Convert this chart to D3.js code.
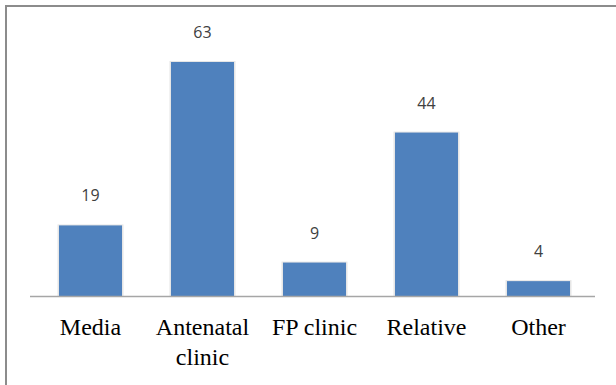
<!DOCTYPE html>
<html><head><meta charset="utf-8">
<script src="https://cdn.jsdelivr.net/npm/d3@7"></script>
<style>html,body{margin:0;padding:0;background:#fff;}svg{display:block;}
.cat{font-family:"Liberation Serif","Tinos","Times New Roman","Times","Nimbus Roman","Nimbus Roman No9 L","FreeSerif","Noto Serif","DejaVu Serif","Noto Serif CJK SC","Source Han Serif SC",serif;}
.val{font-family:"Open Sans","DejaVu Sans",sans-serif;}
</style>
</head><body>
<script>
const categories = ["Media", "Antenatal clinic", "FP clinic", "Relative", "Other"];
const categoryLines = [["Media"], ["Antenatal", "clinic"], ["FP clinic"], ["Relative"], ["Other"]];
const values = [19, 63, 9, 44, 4];

const W = 616, H = 385;
const svg = d3.select("body").append("svg").attr("width", W).attr("height", H);

// outer frame (top and left visible)
svg.append("line").attr("x1", 5).attr("x2", W).attr("y1", 6).attr("y2", 6).attr("stroke", "#8c8c8c").attr("stroke-width", 2);
svg.append("line").attr("x1", 6).attr("x2", 6).attr("y1", 5).attr("y2", H).attr("stroke", "#8c8c8c").attr("stroke-width", 2);

const x = d3.scaleBand().domain(categories).range([34.5, 594.5]).paddingInner(0.4375).paddingOuter(0.21875);
const y = d3.scaleLinear().domain([0, 63]).range([296, 62]);

// bar shadows
svg.selectAll("rect.sh").data(values).join("rect")
  .attr("x", (d, i) => x(categories[i]) - 1.5)
  .attr("y", d => y(d) - 1)
  .attr("width", x.bandwidth() + 3)
  .attr("height", d => y(0) - y(d) + 1)
  .attr("fill", "#e6e6e6");

svg.selectAll("rect.bar").data(values).join("rect")
  .attr("x", (d, i) => x(categories[i]))
  .attr("y", d => y(d))
  .attr("width", x.bandwidth())
  .attr("height", d => y(0) - y(d))
  .attr("fill", "#4f81bd");

// baseline
svg.append("line").attr("x1", 30).attr("x2", 595).attr("y1", 296.5).attr("y2", 296.5).attr("stroke", "#a6a6a6").attr("stroke-width", 1.5);

// value labels
svg.selectAll("text.val").data(values).join("text")
  .attr("class", "val")
  .attr("x", (d, i) => x(categories[i]) + x.bandwidth() / 2)
  .attr("y", d => y(d) - 24)
  .attr("text-anchor", "middle")
  .attr("font-size", 16)
  .attr("fill", "#404040")
  .text(d => d);

// category labels
categoryLines.forEach((lines, i) => {
  const cx = x(categories[i]) + x.bandwidth() / 2;
  const t = svg.append("text")
    .attr("class", "cat")
    .attr("text-anchor", "middle")
    .attr("font-size", 24)
    .attr("fill", "#000");
  lines.forEach((l, j) => {
    t.append("tspan").attr("x", cx).attr("y", 335 + j * 30).text(l);
  });
});
</script>
</body></html>
